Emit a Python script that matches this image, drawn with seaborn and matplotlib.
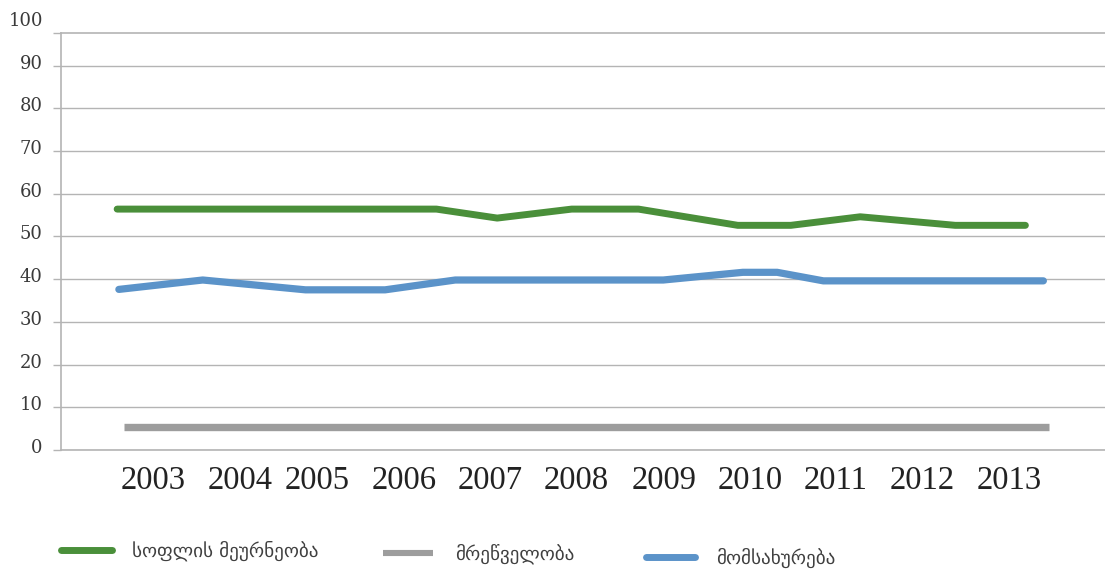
import matplotlib
matplotlib.use("Agg")
import matplotlib.pyplot as plt
import matplotlib.transforms as mtransforms
from matplotlib.lines import Line2D
import seaborn as sns
import pandas as pd

# ---------------- data ----------------
year_labels = ["2003", "2004", "2005", "2006", "2007", "2008",
               "2009", "2010", "2011", "2012", "2013"]

series_names = ["სოფლის მეურნეობა", "მრეწველობა", "მომსახურება"]

agri_x = [2002.58, 2006.31, 2007.02, 2007.89, 2008.67, 2009.83,
          2010.45, 2011.26, 2012.37, 2013.19]
agri_y = [56.4, 56.4, 54.3, 56.4, 56.4, 52.6, 52.6, 54.6, 52.6, 52.6]

ind_x = [2002.66, 2013.47]
ind_y = [5.4, 5.4]

serv_x = [2002.60, 2003.58, 2004.78, 2005.71, 2006.53, 2008.96,
          2009.89, 2010.29, 2010.83, 2013.40]
serv_y = [37.6, 39.8, 37.5, 37.5, 39.8, 39.8, 41.6, 41.6, 39.6, 39.6]

y_ticks = [0, 10, 20, 30, 40, 50, 60, 70, 80, 90]
y_top_label = "100"

# ---------------- layout / style ----------------
tick_pos = [2003.0, 2004.02, 2004.92, 2005.93, 2006.94, 2007.94,
            2008.97, 2009.97, 2010.97, 2011.99, 2013.0]
c_green = "#4a8f3a"
c_gray = "#9d9d9d"
c_blue = "#5b93c9"
c_grid = "#b4b4b4"

sns.set_theme(style="white")
plt.rcParams["font.family"] = ["DejaVu Sans"]

fig = plt.figure(figsize=(11.05, 5.74), dpi=100)
W, H = 1105, 574
ax = fig.add_axes([61.5 / W, 1 - 450 / H, (W - 61.5) / W, (450 - 32.7) / H])

df_agri = pd.DataFrame({"x": agri_x, "y": agri_y})
df_ind = pd.DataFrame({"x": ind_x, "y": ind_y})
df_serv = pd.DataFrame({"x": serv_x, "y": serv_y})

sns.lineplot(data=df_ind, x="x", y="y", sort=False, errorbar=None, ax=ax,
             color=c_gray, linewidth=5.3, solid_capstyle="butt", zorder=3)
sns.lineplot(data=df_serv, x="x", y="y", sort=False, errorbar=None, ax=ax,
             color=c_blue, linewidth=5.2, solid_capstyle="round",
             solid_joinstyle="round", zorder=3)
sns.lineplot(data=df_agri, x="x", y="y", sort=False, errorbar=None, ax=ax,
             color=c_green, linewidth=5.0, solid_capstyle="round",
             solid_joinstyle="round", zorder=4)

ax.set_xlim(2001.93, 2014.12)
ax.set_ylim(0, 97.7)
ax.set_xlabel("")
ax.set_ylabel("")

ax.set_xticks(tick_pos)
ax.set_xticklabels(year_labels, fontfamily="Liberation Serif", fontsize=23.5,
                   color="#222222")
ax.tick_params(axis="x", length=0, pad=11)

ax.set_yticks(y_ticks)
ax.set_yticklabels([str(v) for v in y_ticks], fontfamily="DejaVu Serif",
                   fontsize=13, color="#3a3a3a")
ax.set_yticks([97.7], minor=True)
ax.tick_params(axis="y", which="both", left=True, length=6, width=1,
               color=c_grid, pad=7.5)

ax.grid(axis="y", color=c_grid, linewidth=1)
ax.grid(axis="x", visible=False)
ax.spines["right"].set_visible(False)
for s in ["left", "top", "bottom"]:
    ax.spines[s].set_color(c_grid)
    ax.spines[s].set_linewidth(1.2)

# shift y tick labels up a little
up = mtransforms.ScaledTranslation(0, 4 / 100, fig.dpi_scale_trans)
for t in ax.yaxis.get_major_ticks():
    t.label1.set_transform(t.label1.get_transform() + up)

# "100" label above the clipped top
ax.text(0, 100, y_top_label, transform=ax.get_yaxis_transform()
        + mtransforms.ScaledTranslation(-18.5 / 100, 4 / 100, fig.dpi_scale_trans),
        ha="right", va="center_baseline", fontfamily="DejaVu Serif",
        fontsize=13, color="#3a3a3a", clip_on=False)

# ---------------- legend (three staggered entries) ----------------
lf = 13.8
fpx = lf * 100 / 72
entries = [
    (series_names[0], c_green, "round", 5.0, 60.5, 551, 51, 20.5),
    (series_names[1], c_gray, "butt", 4.4, 383, 554, 50, 22),
    (series_names[2], c_blue, "round", 5.0, 645.5, 558, 49, 21.5),
]
for name, col, cap, lw, px, py, hl, gap in entries:
    h = Line2D([], [], color=col, linewidth=lw, solid_capstyle=cap)
    fig.legend(handles=[h], labels=[name], loc="center left",
               bbox_to_anchor=(px / W, 1 - py / H), frameon=False,
               borderpad=0, borderaxespad=0, handlelength=hl / fpx,
               handletextpad=gap / fpx, fontsize=lf, labelcolor="#404040")

fig.savefig("out.png", dpi=100)
